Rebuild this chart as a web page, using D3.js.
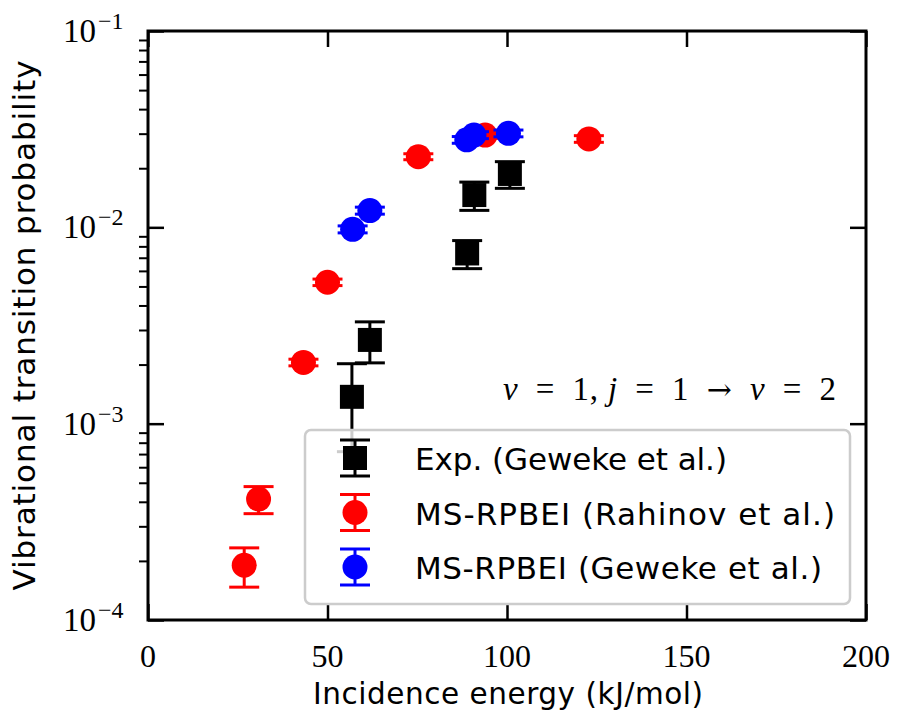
<!DOCTYPE html>
<html>
<head>
<meta charset="UTF-8">
<script src="https://d3js.org/d3.v7.min.js"></script>
<style>
  body { margin: 0; background: #fff; }
  text { fill: #000; }
</style>
</head>
<body>
<div id="chart"></div>
<script>
// data
const expEnergy = [56.8, 61.8, 88.9, 90.9, 100.8];
const expProb   = [1.37e-3, 2.67e-3, 7.36e-3, 1.46e-2, 1.87e-2];
const expErr    = [0.65e-3, 0.63e-3, 1.2e-3, 2.4e-3, 2.9e-3];

const rahEnergy = [26.8, 30.8, 43.3, 50.0, 75.3, 93.9, 122.8];
const rahProb   = [1.9e-4, 4.13e-4, 2.05e-3, 5.25e-3, 2.29e-2, 2.95e-2, 2.82e-2];
const rahErr    = [4.3e-5, 6.5e-5, 8e-5, 2e-4, 8e-4, 1.1e-3, 1.1e-3];

const gewEnergy = [57.0, 61.8, 88.8, 90.8, 100.4];
const gewProb   = [9.77e-3, 1.217e-2, 2.79e-2, 2.95e-2, 3.01e-2];
const gewErr    = [4e-4, 5e-4, 1.1e-3, 1.2e-3, 1.2e-3];

const xTicks = [0, 50, 100, 150, 200];
const yTicks = [1e-4, 1e-3, 1e-2, 1e-1];
const yTickExp = ["−4", "−3", "−2", "−1"];

const legendLabels = ["Exp. (Geweke et al.)", "MS-RPBEI (Rahinov et al.)", "MS-RPBEI (Geweke et al.)"];
const seriesColors = ["#000000", "#ff0000", "#0000ff"];

// layout
const W = 899, H = 718;
const pLeft = 148, pRight = 866, pTop = 31, pBottom = 620;
const legendTextLen = [312, 420, 407];

const svg = d3.select("#chart").append("svg")
    .attr("width", W).attr("height", H);

const x = d3.scaleLinear().domain([0, 200]).range([pLeft, pRight]);
const y = d3.scaleLog().domain([1e-4, 1e-1]).range([pBottom, pTop]);

const sans = "'DejaVu Sans', 'Open Sans', sans-serif";
const serif = "'Liberation Serif', 'DejaVu Serif', serif";

// minor ticks (outward, left)
const minor = [];
for (let d = -4; d < -1; d++) for (let k = 2; k <= 9; k++) minor.push(k * Math.pow(10, d));
svg.append("g")
    .attr("transform", `translate(${pLeft},0)`)
    .call(d3.axisLeft(y).tickValues(minor).tickSize(9).tickFormat(""))
    .call(g => g.select(".domain").remove())
    .call(g => g.selectAll("line").attr("stroke-width", 2));

// major ticks, inward on all sides
const majorStyle = g => g.call(g => g.select(".domain").remove())
    .call(g => g.selectAll("line").attr("stroke-width", 2.5));
svg.append("g").attr("transform", `translate(${pLeft},0)`)
    .call(d3.axisLeft(y).tickValues(yTicks).tickSize(-16).tickFormat("")).call(majorStyle);
svg.append("g").attr("transform", `translate(${pRight},0)`)
    .call(d3.axisRight(y).tickValues(yTicks).tickSize(-16).tickFormat("")).call(majorStyle);
svg.append("g").attr("transform", `translate(0,${pBottom})`)
    .call(d3.axisBottom(x).tickValues(xTicks).tickSize(-16).tickFormat("")).call(majorStyle);
svg.append("g").attr("transform", `translate(0,${pTop})`)
    .call(d3.axisTop(x).tickValues(xTicks).tickSize(-16).tickFormat("")).call(majorStyle);

// tick labels
svg.append("g").selectAll("text").data(xTicks).join("text")
    .attr("x", d => x(d)).attr("y", 667)
    .attr("text-anchor", "middle")
    .style("font-family", serif).style("font-size", "32px")
    .text(d => d);

const yl = svg.append("g").selectAll("text").data(yTicks).join("text")
    .attr("x", 63).attr("y", d => y(d) + 11)
    .style("font-family", serif).style("font-size", "33px");
yl.append("tspan").text("10");
yl.append("tspan").attr("dx", 2).attr("dy", -13).style("font-size", "24px").text((d, i) => yTickExp[i]);

// axis labels
svg.append("text")
    .attr("x", 508).attr("y", 704)
    .attr("text-anchor", "middle")
    .attr("textLength", 390)
    .style("font-family", sans).style("font-size", "29.5px")
    .text("Incidence energy (kJ/mol)");

svg.append("text")
    .attr("transform", `translate(35,${(pTop + pBottom) / 2}) rotate(-90)`)
    .attr("text-anchor", "middle")
    .attr("textLength", 530)
    .style("font-family", sans).style("font-size", "31px")
    .text("Vibrational transition probability");

// error bars + markers
const series = [
    {e: expEnergy, p: expProb, err: expErr, shape: "square"},
    {e: rahEnergy, p: rahProb, err: rahErr, shape: "circle"},
    {e: gewEnergy, p: gewProb, err: gewErr, shape: "circle"}
];
const capW = 15;

series.forEach((s, si) => {
    const c = seriesColors[si];
    const pts = s.e.map((e, i) => ({e, p: s.p[i], lo: s.p[i] - s.err[i], hi: s.p[i] + s.err[i]}));
    const g = svg.append("g");
    g.selectAll("line.bar").data(pts).join("line")
        .attr("x1", d => x(d.e)).attr("x2", d => x(d.e))
        .attr("y1", d => y(d.lo)).attr("y2", d => y(d.hi))
        .attr("stroke", c).attr("stroke-width", 3);
    ["lo", "hi"].forEach(k => {
        g.selectAll("line.cap" + k).data(pts).join("line")
            .attr("x1", d => x(d.e) - capW).attr("x2", d => x(d.e) + capW)
            .attr("y1", d => y(d[k])).attr("y2", d => y(d[k]))
            .attr("stroke", c).attr("stroke-width", 3);
    });
    if (s.shape === "square") {
        g.selectAll("rect").data(pts).join("rect")
            .attr("x", d => x(d.e) - 12).attr("y", d => y(d.p) - 12)
            .attr("width", 24).attr("height", 24).attr("fill", c);
    } else {
        g.selectAll("circle").data(pts).join("circle")
            .attr("cx", d => x(d.e)).attr("cy", d => y(d.p))
            .attr("r", 12.5).attr("fill", c);
    }
});

// spines
svg.append("rect")
    .attr("x", pLeft).attr("y", pTop)
    .attr("width", pRight - pLeft).attr("height", pBottom - pTop)
    .attr("fill", "none").attr("stroke", "#000").attr("stroke-width", 3);

// annotation (wider spacing around relations, like TeX)
const sp = "\u2002";
const ann = svg.append("text")
    .attr("x", 503).attr("y", 400)
    .attr("textLength", 333)
    .style("font-family", serif).style("font-size", "33px");
ann.append("tspan").style("font-style", "italic").text("ν");
ann.append("tspan").text(`${sp}=${sp}1, `);
ann.append("tspan").style("font-style", "italic").text("j");
ann.append("tspan").text(`${sp}=${sp}1${sp}`);
ann.append("tspan").style("font-family", "'DejaVu Serif', serif").style("font-size", "30px").text("→");
ann.append("tspan").text(sp);
ann.append("tspan").style("font-style", "italic").text("ν");
ann.append("tspan").text(`${sp}=${sp}2`);

// legend
const lg = svg.append("g");
lg.append("rect")
    .attr("x", 305).attr("y", 430).attr("width", 545).attr("height", 174)
    .attr("rx", 6)
    .attr("fill", "#fff").attr("fill-opacity", 0.8)
    .attr("stroke", "#cccccc").attr("stroke-width", 2.5);

const rowY = [458, 512.5, 567];
legendLabels.forEach((lab, i) => {
    const c = seriesColors[i], cy = rowY[i], cx = 355;
    lg.append("line").attr("x1", cx).attr("x2", cx).attr("y1", cy - 18).attr("y2", cy + 18)
        .attr("stroke", c).attr("stroke-width", 3);
    [-18, 18].forEach(dy => lg.append("line")
        .attr("x1", cx - capW).attr("x2", cx + capW).attr("y1", cy + dy).attr("y2", cy + dy)
        .attr("stroke", c).attr("stroke-width", 3));
    if (i === 0) lg.append("rect").attr("x", cx - 12).attr("y", cy - 12).attr("width", 24).attr("height", 24).attr("fill", c);
    else lg.append("circle").attr("cx", cx).attr("cy", cy).attr("r", 12.5).attr("fill", c);
    lg.append("text").attr("x", 415).attr("y", cy + 12)
        .attr("textLength", legendTextLen[i])
        .style("font-family", sans).style("font-size", "31px")
        .text(lab);
});
</script>
</body>
</html>
